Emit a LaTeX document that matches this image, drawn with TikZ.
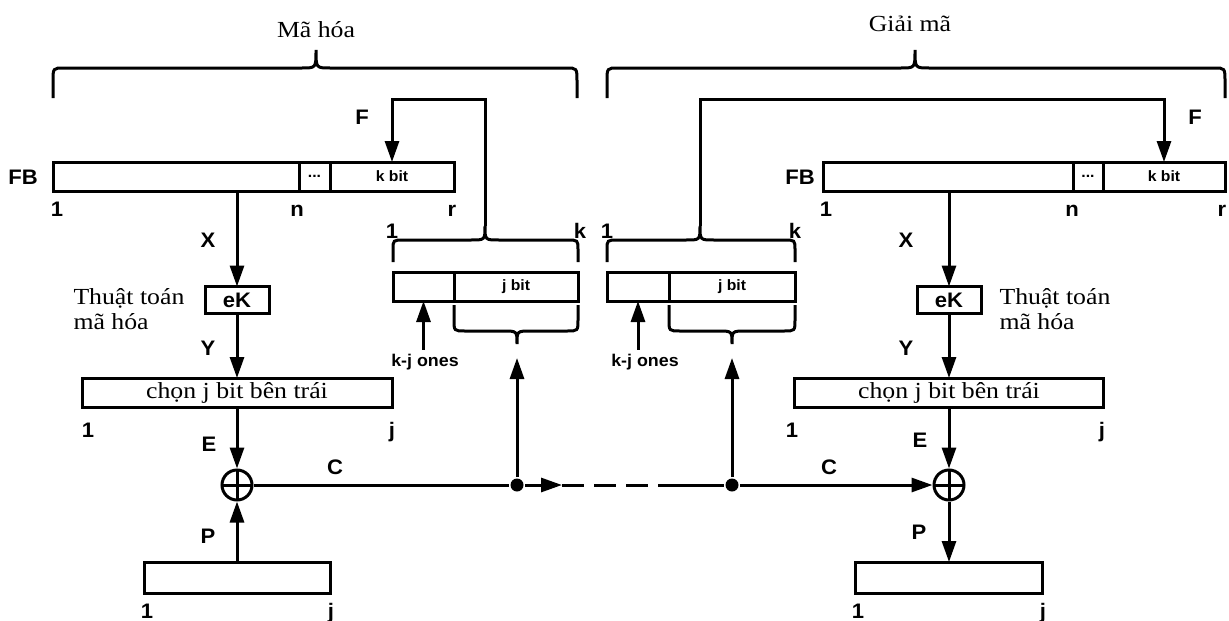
\documentclass[tikz,border=0pt]{standalone}
\usepackage{fontspec}
\setmainfont{Liberation Serif}[FakeStretch=1.12]
\setsansfont{Liberation Sans}[FakeStretch=1.05]
\usetikzlibrary{arrows.meta,positioning}

% dấu ngoặc: x trái, x đỉnh, x phải, y chân, y ngang, y đỉnh
\newcommand{\ngoac}[6]{%
  \draw (#1,#4) -- (#1,{#5+0.45*(#4-#5)}) .. controls (#1,#5) .. ({#1+11},#5)
    -- ({#2-14},#5) .. controls (#2,#5) .. (#2,#6)
    .. controls (#2,#5) .. ({#2+14},#5)
    -- ({#3-11},#5) .. controls (#3,#5) .. (#3,{#5+0.45*(#4-#5)}) -- (#3,#4);}

\begin{document}
\begin{tikzpicture}[x=1pt, y=-1pt, line width=3pt,
    hop/.style={draw, inner sep=0pt, outer sep=0pt, minimum height=29pt},
    nhan/.style={font=\sffamily\bfseries\fontsize{21}{21}\selectfont, inner sep=0pt},
    so/.style={nhan, anchor=base},
    nho/.style={font=\sffamily\bfseries\fontsize{15}{15}\selectfont},
    ghichu/.style={font=\sffamily\bfseries\fontsize{17}{17}\selectfont, inner sep=0pt},
    chu/.style={font=\fontsize{23}{25}\selectfont, inner sep=0pt},
    mui/.style={-{Triangle[length=21pt,width=14pt]}},
    xor/.style={draw, circle, inner sep=0pt, minimum size=30pt,
      path picture={\draw (path picture bounding box.north) -- (path picture bounding box.south)
        (path picture bounding box.west) -- (path picture bounding box.east);}},
    cham/.style={circle, fill, inner sep=0pt, minimum size=13pt}]
    \useasboundingbox (0,0) rectangle (1229,621);

    % Mã hóa
    \node[chu] (tieudeA) at (316,30) {Mã hóa};
    \ngoac{53}{316}{577}{98}{68}{50}

    % thanh ghi FB bên trái
    \node[hop, minimum width=246pt] (fb1A) at (176,176.5) {};
    \node[hop, nho, minimum width=31pt, right=0pt of fb1A] (fb2A) {...};
    \node[hop, nho, minimum width=124pt, right=0pt of fb2A] (kbitA) {k bit};
    \node[nhan] (fbA) at (23,177) {FB};
    \node[so] (s1A) at (57,216) {1};
    \node[so] (snA) at (297,216) {n};
    \node[so] (srA) at (452,216) {r};

    % thanh ghi k bit bên trái
    \node[hop, minimum width=61pt] (onesA) at (423.5,286.5) {};
    \node[hop, nho, minimum width=124pt, right=0pt of onesA] (jbitA) {j bit};
    \node[so] (k1A) at (392,238) {1};
    \node[so] (kkA) at (580,238) {k};
    \ngoac{393}{485}{578}{262}{240}{226}
    \ngoac{454}{517}{578}{305}{331}{344}
    \coordinate (dinhA) at (485,226);
    \coordinate (dayA) at (517,344);
    \node[ghichu] (motA) at (425,362) {k-j ones};

    % F quay về
    \draw[mui] (dinhA) -- ++(0,-127) -| (kbitA.north);
    \node[nhan] (fA) at (362,117) {F};

    % khối mã hóa
    \node[hop, nhan, minimum width=64pt, minimum height=27pt] (eKA) at (237,300) {eK};
    \node[chu, align=left, anchor=west] (ttA) at (72,309) {Thuật toán\\mã hóa};
    \node[hop, chu, minimum width=310pt] (chonA) at (237,392.5) {chọn j bit bên trái};
    \node[so] (c1A) at (88,437) {1};
    \node[so] (cjA) at (392,437) {j};
    \node[xor] (xorA) at (237,485) {};
    \node[hop, minimum width=186pt, minimum height=31pt] (pA) at (237,577.5) {};
    \node[so] (p1A) at (147,618) {1};
    \node[so] (pjA) at (331,618) {j};

    \node[nhan] (xA) at (208,240) {X};
    \node[nhan] (yA) at (208,348) {Y};
    \node[nhan] (eA) at (209,444) {E};
    \node[nhan] (ppA) at (208,536) {P};
    \node[nhan] (cA) at (335,467) {C};

    \draw[mui] (fb1A.south -| eKA) -- (eKA);
    \draw[mui] (eKA) -- (chonA);
    \draw[mui] (chonA) -- (xorA);
    \draw[mui] (pA) -- (xorA);

    % Giải mã
    \node[chu] (tieudeB) at (910,24) {Giải mã};
    \ngoac{607}{915}{1225}{98}{68}{50}

    % thanh ghi FB bên phải
    \node[hop, minimum width=250pt] (fb1B) at (948,176.5) {};
    \node[hop, nho, minimum width=30pt, right=0pt of fb1B] (fb2B) {...};
    \node[hop, nho, minimum width=122pt, right=0pt of fb2B] (kbitB) {k bit};
    \node[nhan] (fbB) at (800,177) {FB};
    \node[so] (s1B) at (826,216) {1};
    \node[so] (snB) at (1072,216) {n};
    \node[so] (srB) at (1222,216) {r};

    % thanh ghi k bit bên phải
    \node[hop, minimum width=62pt] (onesB) at (638,286.5) {};
    \node[hop, nho, minimum width=126pt, right=0pt of onesB] (jbitB) {j bit};
    \node[so] (k1B) at (607,238) {1};
    \node[so] (kkB) at (795,238) {k};
    \ngoac{607}{700}{795}{262}{240}{226}
    \ngoac{669}{732}{795}{305}{331}{344}
    \coordinate (dinhB) at (700,226);
    \coordinate (dayB) at (732,344);
    \node[ghichu] (motB) at (645,362) {k-j ones};

    \draw[mui] (dinhB) -- ++(0,-127) -| (kbitB.north);
    \node[nhan] (fB) at (1195,117) {F};

    % khối giải mã
    \node[hop, nhan, minimum width=64pt, minimum height=27pt] (eKB) at (949,300) {eK};
    \node[chu, align=left, anchor=west] (ttB) at (998,309) {Thuật toán\\mã hóa};
    \node[hop, chu, minimum width=309pt] (chonB) at (949,392.5) {chọn j bit bên trái};
    \node[so] (c1B) at (792,437) {1};
    \node[so] (cjB) at (1102,437) {j};
    \node[xor] (xorB) at (949,485) {};
    \node[hop, minimum width=187pt, minimum height=31pt] (pB) at (949,577.5) {};
    \node[so] (p1B) at (858,618) {1};
    \node[so] (pjB) at (1043,618) {j};

    \node[nhan] (xB) at (906,240) {X};
    \node[nhan] (yB) at (906,348) {Y};
    \node[nhan] (eB) at (920,440) {E};
    \node[nhan] (ppB) at (919,532) {P};
    \node[nhan] (cB) at (829,467) {C};

    \draw[mui] (fb1B.south -| eKB) -- (eKB);
    \draw[mui] (eKB) -- (chonB);
    \draw[mui] (chonB) -- (xorB);
    \draw[mui] (xorB) -- (pB);

    % đường C
    \node[cham] (nutA) at (517,485) {};
    \node[cham] (nutB) at (732,485) {};
    \coordinate (dutA) at (562,485);
    \coordinate (dutB) at (665,485);
    \draw (xorA) -- (nutA);
    \draw[mui] (nutA) -- (dutA);
    \draw[dash pattern=on 22pt off 10pt] (dutA) -- (dutB);
    \draw (dutB) -- (nutB);
    \draw[mui] (nutB) -- (xorB);
    \draw[mui, shorten >=14pt] (nutA) -- (dayA);
    \draw[mui, shorten >=14pt] (nutB) -- (dayB);

    % k-j ones
    \draw[mui, shorten <=3pt] (motA.north -| onesA) -- (onesA.south);
    \draw[mui, shorten <=3pt] (motB.north -| onesB) -- (onesB.south);
\end{tikzpicture}
\end{document}
